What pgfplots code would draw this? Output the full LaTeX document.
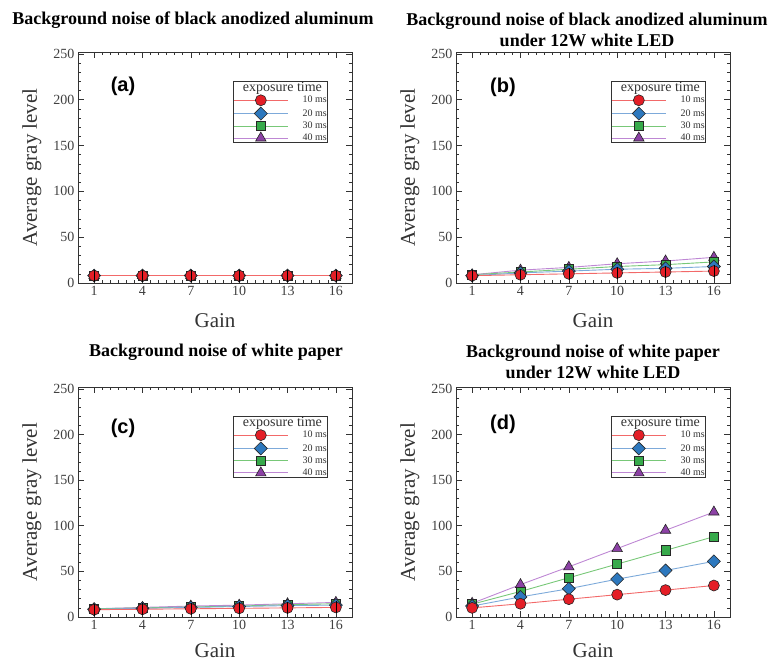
\documentclass[border=0pt]{standalone}
\usepackage{fontspec}
\setmainfont{Liberation Serif}
\newfontfamily\arialbf{Liberation Sans}
\usepackage{pgfplots}
\pgfplotsset{compat=1.18}

\definecolor{mred}{RGB}{228,30,38}
\definecolor{lred}{RGB}{242,105,105}
\definecolor{mblue}{RGB}{45,120,190}
\definecolor{lblue}{RGB}{125,170,218}
\definecolor{mgreen}{RGB}{55,170,75}
\definecolor{lgreen}{RGB}{120,200,120}
\definecolor{mpurple}{RGB}{140,65,165}
\definecolor{lpurple}{RGB}{190,135,212}

\pgfplotsset{
  s10/.style={color=lred, line width=0.9pt, mark=*, mark size=5.5pt,
    mark options={fill=mred, draw=black!85, line width=0.6pt, solid}},
  s20/.style={color=lblue, line width=0.9pt, mark=square*, mark size=4.6pt,
    mark options={fill=mblue, draw=black!85, line width=0.6pt, solid, rotate=45}},
  s30/.style={color=lgreen, line width=0.9pt, mark=square*, mark size=4.6pt,
    mark options={fill=mgreen, draw=black!85, line width=0.6pt, solid}},
  s40/.style={color=lpurple, line width=0.9pt, mark=triangle*, mark size=6pt,
    mark options={fill=mpurple, draw=black!85, line width=0.6pt, solid}},
  eb/.style={forget plot, only marks, mark=|, mark size=6pt, black, line width=0.6pt},
  panel/.style={
    scale only axis, width=274pt,
    xmin=0, xmax=17, ymin=0, ymax=252,
    xtick={1,4,7,10,13,16}, ytick={0,50,...,250},
    minor x tick num=5, minor y tick num=4,
    major tick length=6pt, minor tick length=3pt,
    tick style={black!80, line width=0.6pt},
    axis line style={black!80, line width=0.9pt},
    /pgf/number format/assume math mode=true,
    ticklabel style={font=\fontsize{14}{14}\selectfont, text=black!75},
    xlabel={Gain}, ylabel={Average gray level},
    label style={font=\fontsize{21}{21}\selectfont, text=black!80},
    xlabel style={at={(axis description cs:0.5,-0.165)}, anchor=center},
    ylabel style={at={(axis description cs:-0.168,0.5)}, anchor=center},
    clip=false,
    reverse legend,
    legend cell align=right,
    legend style={at={(0.912,0.874)}, anchor=north east,
      draw=black!80, line width=0.8pt, inner sep=0pt,
      font=\fontsize{10}{10}\selectfont, text=black!80,
      nodes={inner sep=0.6pt}, row sep=1.3pt},
    legend image code/.code={
      \draw[mark repeat=2, mark phase=2, #1] plot coordinates {(0pt,0pt) (27pt,0pt) (54pt,0pt)};}
  },
  lowrow/.style={xlabel style={at={(axis description cs:0.5,-0.146)}}}
}
\newcommand{\legtitle}{\addlegendimage{empty legend}\addlegendentry{\makebox[38pt][r]{\makebox[0pt][r]{\fontsize{14}{14}\selectfont exposure time\hspace{5pt}}}}}

\begin{document}
\begin{tikzpicture}
\path[use as bounding box] (0,0) rectangle (771pt,662pt);

% ---------- (a)
\begin{axis}[panel, at={(78pt,379pt)}, anchor=south west, height=231pt]
\addplot[s40] coordinates {(1,8.2) (4,8.2) (7,8.2) (10,8.2) (13,8.2) (16,8.2)};
\addlegendentry{40 ms}
\addplot[s30] coordinates {(1,8.1) (4,8.1) (7,8.1) (10,8.1) (13,8.1) (16,8.1)};
\addlegendentry{30 ms}
\addplot[s20] coordinates {(1,8.1) (4,8.1) (7,8.1) (10,8.1) (13,8.1) (16,8.1)};
\addlegendentry{20 ms}
\addplot[s10] coordinates {(1,8) (4,8) (7,8) (10,8) (13,8) (16,8)};
\addlegendentry{10 ms}
\addplot[eb] coordinates {(1,8) (4,8) (7,8) (10,8) (13,8) (16,8)};
\legtitle
\end{axis}

% ---------- (b)
\begin{axis}[panel, at={(456pt,379pt)}, anchor=south west, height=231pt]
\addplot[s40] coordinates {(1,9) (4,14) (7,17) (10,21) (13,24) (16,28)};
\addlegendentry{40 ms}
\addplot[s30] coordinates {(1,9) (4,12) (7,15) (10,18) (13,20) (16,23)};
\addlegendentry{30 ms}
\addplot[s20] coordinates {(1,8) (4,11) (7,13) (10,15) (13,16) (16,18)};
\addlegendentry{20 ms}
\addplot[s10] coordinates {(1,8) (4,9) (7,10) (10,11) (13,12) (16,13)};
\addlegendentry{10 ms}
\addplot[eb] coordinates {(1,8) (4,9) (7,10) (10,11) (13,12) (16,13)};
\legtitle
\end{axis}

% ---------- (c)
\begin{axis}[panel, lowrow, at={(78pt,45pt)}, anchor=south west, height=230pt]
\addplot[s40] coordinates {(1,9) (4,10.5) (7,12) (10,13) (13,14.5) (16,16)};
\addlegendentry{40 ms}
\addplot[s30] coordinates {(1,9) (4,10) (7,11) (10,12) (13,13.5) (16,14.5)};
\addlegendentry{30 ms}
\addplot[s20] coordinates {(1,8.5) (4,9.5) (7,10.5) (10,11.5) (13,12.5) (16,13)};
\addlegendentry{20 ms}
\addplot[s10] coordinates {(1,8) (4,8.5) (7,9) (10,9.5) (13,10) (16,10.5)};
\addlegendentry{10 ms}
\addplot[eb] coordinates {(1,8) (4,8.5) (7,9) (10,9.5) (13,10) (16,10.5)};
\legtitle
\end{axis}

% ---------- (d)
\begin{axis}[panel, lowrow, at={(456pt,45pt)}, anchor=south west, height=230pt]
\addplot[s40] coordinates {(1,15) (4,35.5) (7,55) (10,75) (13,95) (16,115)};
\addlegendentry{40 ms}
\addplot[s30] coordinates {(1,14) (4,28) (7,43) (10,58) (13,73) (16,88)};
\addlegendentry{30 ms}
\addplot[s20] coordinates {(1,12) (4,22) (7,31) (10,41.5) (13,51) (16,61)};
\addlegendentry{20 ms}
\addplot[s10] coordinates {(1,10) (4,14.5) (7,19.5) (10,24.5) (13,29.5) (16,34.5)};
\addlegendentry{10 ms}
\legtitle
\end{axis}

% ---------- titles
\node[font=\bfseries\fontsize{18}{21}\selectfont, align=center] at (193pt,642pt) {Background noise of black anodized aluminum};
\node[font=\bfseries\fontsize{18}{21}\selectfont, align=center] at (587pt,632pt) {Background noise of black anodized aluminum\\under 12W white LED};
\node[font=\bfseries\fontsize{18}{21}\selectfont, align=center] at (216pt,310pt) {Background noise of white paper};
\node[font=\bfseries\fontsize{18}{21}\selectfont, align=center] at (593pt,300.5pt) {Background noise of white paper\\under 12W white LED};

% ---------- panel labels
\node[font=\arialbf\bfseries\fontsize{20}{20}\selectfont] at (123pt,576pt) {(a)};
\node[font=\arialbf\bfseries\fontsize{20}{20}\selectfont] at (503pt,575pt) {(b)};
\node[font=\arialbf\bfseries\fontsize{20}{20}\selectfont] at (123pt,234pt) {(c)};
\node[font=\arialbf\bfseries\fontsize{20}{20}\selectfont] at (503pt,238pt) {(d)};
\end{tikzpicture}
\end{document}
